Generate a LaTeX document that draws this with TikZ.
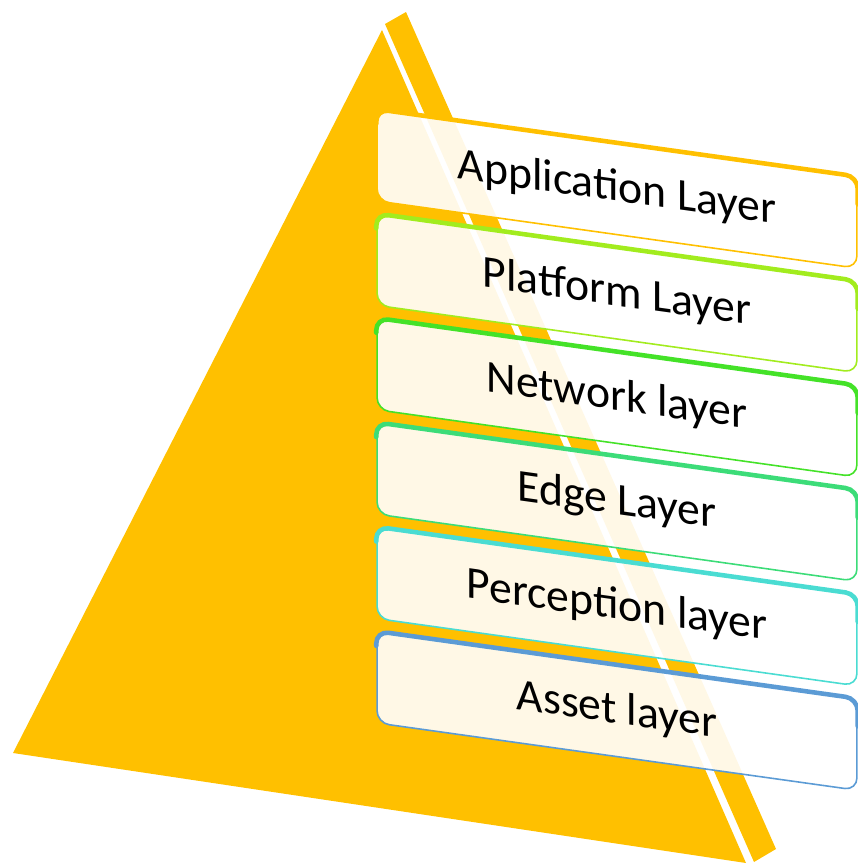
\documentclass[tikz,border=0pt]{standalone}
\usepackage{fontspec}
\setmainfont{Carlito}
\usetikzlibrary{calc}
\definecolor{pyr}{HTML}{FFC000}
\definecolor{cApp}{HTML}{FFC000}
\definecolor{cPlat}{HTML}{A2EC1E}
\definecolor{cNet}{HTML}{44E228}
\definecolor{cEdge}{HTML}{3CDC78}
\definecolor{cPerc}{HTML}{4ADCD2}
\definecolor{cAsset}{HTML}{5B9BD5}
\begin{document}
\begin{tikzpicture}[x=0.02cm,y=-0.02cm,
  layerbox/.style={draw=#1, fill=white, fill opacity=0.9, text opacity=1,
    line width=0.9pt, rounded corners=7pt, transform shape,
    minimum width=9.6cm, minimum height=1.82cm, inner sep=0pt,
    font=\fontsize{26}{30}\selectfont, text=black},
  bevel/.style={draw=#1, line width=2.6pt, rounded corners=7pt, line cap=round}]
\useasboundingbox (0,0) rectangle (858,863);
% pyramid front face and side strip
\fill[pyr] (382,30) -- (13,753) -- (746,863) -- cycle;
\fill[pyr] (385,24) -- (406,12) -- (776,849) -- (754,862) -- cycle;
% layers
\foreach \i/\c/\t in {0/cApp/Application Layer, 1/cPlat/Platform Layer,
  2/cNet/Network layer, 3/cEdge/Edge Layer, 4/cPerc/Perception layer,
  5/cAsset/Asset layer}{
  \begin{scope}[shift={(377,{110+104.4*\i})}, yslant=-0.14]
    \node[layerbox=\c] (L\i) at (240,45.5) {\t};
    \draw[bevel=\c] ($(L\i.north west)!0.16!(L\i.south west)$) -- (L\i.north west)
      -- (L\i.north east) -- ($(L\i.north east)!0.3!(L\i.south east)$);
  \end{scope}
}
\end{tikzpicture}
\end{document}
